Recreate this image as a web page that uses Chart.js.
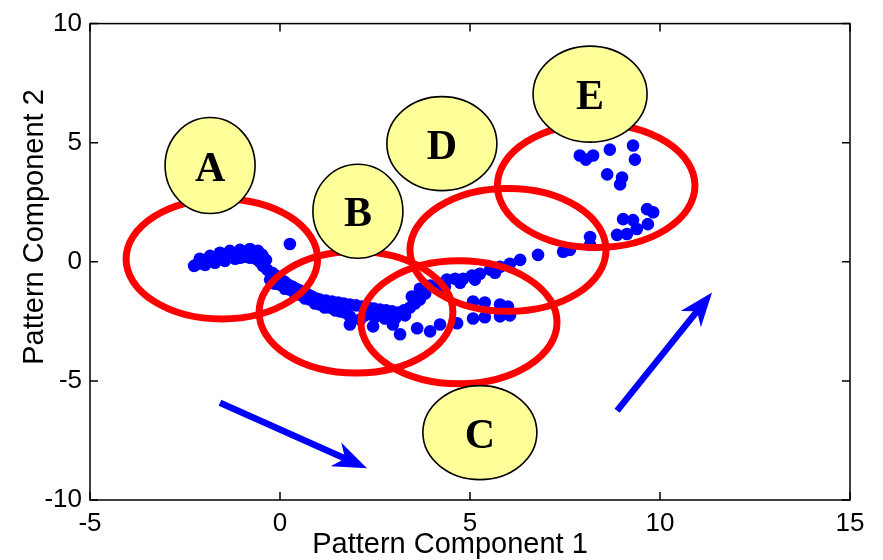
<html>
	<head>
		<script src="https://cdn.jsdelivr.net/npm/chart.js"></script>
		<style>
			body {
				margin: 0;
				background: white;
			}
			canvas {
				display: block;
			}
		</style>
	</head>
	<body>
		<canvas id="pcaChart" width="883" height="560"></canvas>

		<script>
			// scatter points
			const pc1 = [
				-2.26, -2.16, -2.03, -1.89, -1.79, -1.66, -1.53, -1.42, -1.32, -1.21, -1.11, -1.00, -0.89, -0.79, -0.68,
				-0.92, -1.18, -1.45, -1.71, -1.97, -1.05, -0.79, -0.63, -0.53, -0.45, -0.34, -0.21, -0.11, 0.00, 0.11,
				0.21, 0.32, 0.42, 0.53, 0.63, 0.74, 0.84, 0.95, 1.05, 1.21, 1.37, 1.53, 1.68, 1.84, 2.00,
				2.16, 2.32, 2.47, 2.63, 2.79, 2.95, 3.11, 3.26, 3.42, 3.55, 3.68, -0.26, 0.00, 0.26, 0.53,
				0.79, 1.05, 1.32, 1.58, 1.84, 2.11, 1.84, 2.45, 2.97, 3.16, 3.61, 4.21, 4.66, 3.95,
				3.68, 3.95, 4.21, 4.39, 4.61, 4.82, 5.05, 5.26, 5.53, 5.79, 6.05, 6.32, 6.79,
				5.08, 5.39, 5.79, 6.00, 5.08, 5.39, 5.79, 6.05,
				7.45, 7.63, 8.16, 8.16, 8.87, 9.13, 9.39, 9.68, 9.03, 9.29, 9.66, 9.82,
				7.89, 8.24, 8.05, 8.68, 9.29, 9.34, 8.61, 9.00, 8.95,
				0.26,
				-2.11, -1.84, -1.58, -1.32, -1.05, -0.79, -0.58, -0.47, -0.37,
				-0.13, 0.13, 0.39, 0.66, 0.92, 1.18, 1.45, 1.71, 2.24, 2.50, 2.76, 3.03, 3.29, 3.47, 3.82,
				4.34, 4.74, 5.13, 5.66
			];
			const pc2 = [
				-0.17, -0.08, -0.04, 0.04, 0.08, 0.13, 0.21, 0.25, 0.29, 0.33, 0.33, 0.38, 0.42, 0.42, 0.38,
				0.21, 0.13, 0.04, -0.04, -0.13, 0.17, 0.17, 0.13, 0.00, -0.17, -0.33, -0.46, -0.58, -0.71, -0.83,
				-0.96, -1.04, -1.13, -1.21, -1.29, -1.38, -1.46, -1.54, -1.58, -1.63, -1.67, -1.71, -1.75, -1.79, -1.83,
				-1.88, -1.92, -1.96, -2.00, -2.04, -2.08, -2.13, -2.04, -1.92, -1.75, -1.58, -0.75, -0.96, -1.17, -1.38,
				-1.58, -1.79, -1.92, -2.08, -2.29, -2.42, -2.63, -2.71, -2.63, -3.04, -2.79, -2.63, -2.58, -2.92,
				-1.13, -1.00, -0.92, -0.75, -0.71, -0.71, -0.58, -0.50, -0.33, -0.21, -0.08, 0.08, 0.29,
				-1.67, -1.71, -1.79, -1.88, -2.38, -2.33, -2.29, -2.25,
				0.42, 0.50, 0.71, 1.04, 1.13, 1.17, 1.38, 1.58, 1.79, 1.75, 2.21, 2.08,
				4.46, 4.46, 4.29, 4.71, 4.88, 4.29, 3.67, 3.54, 3.25,
				0.75,
				0.13, 0.25, 0.38, 0.46, 0.50, 0.54, 0.46, 0.29, 0.08,
				-0.92, -1.13, -1.33, -1.54, -1.75, -1.92, -2.04, -2.13, -2.25, -2.33, -2.38, -2.38, -2.25, -1.46, -1.33,
				-1.04, -0.88, -0.75, -0.46
			];

			// axis ticks
			const xTicks = [-5, 0, 5, 10, 15];
			const yTicks = [-10, -5, 0, 5, 10];

			// cluster rings (centre in data units, radius in data units)
			const ringNames = ['A', 'B', 'C', 'D', 'E'];
			const ringX = [-1.53, 2.00, 4.71, 6.00, 8.32];
			const ringY = [0.12, -2.12, -2.54, 0.50, 3.20];
			const ringR = [2.52, 2.55, 2.58, 2.58, 2.60];

			// yellow label bubbles (centre in data units)
			const bubbleX = [-1.84, 2.05, 5.26, 4.26, 8.16];
			const bubbleY = [4.04, 2.12, -7.17, 4.96, 7.04];

			// the two arrows, from -> to, data units
			const arrowFrom = [[-1.58, -5.92], [8.87, -6.25]];
			const arrowTo = [[2.29, -8.67], [11.37, -1.29]];

			const points = pc1.map((x, i) => ({ x: x, y: pc2[i] }));

			const bubbleSize = { A: [45, 48], B: [45, 47], C: [57, 47], D: [55, 47], E: [57, 48] };

			const drawArrow = (ctx, x0, y0, x1, y1) => {
				const dx = x1 - x0, dy = y1 - y0;
				const len = Math.sqrt(dx * dx + dy * dy);
				const ux = dx / len, uy = dy / len;
				const px = -uy, py = ux;
				const head = 34, notch = 24, half = 13;
				ctx.strokeStyle = '#0000FF';
				ctx.fillStyle = '#0000FF';
				ctx.lineWidth = 6.5;
				ctx.lineCap = 'butt';
				ctx.beginPath();
				ctx.moveTo(x0, y0);
				ctx.lineTo(x1 - ux * notch, y1 - uy * notch);
				ctx.stroke();
				ctx.beginPath();
				ctx.moveTo(x1, y1);
				ctx.lineTo(x1 - ux * head + px * half, y1 - uy * head + py * half);
				ctx.lineTo(x1 - ux * notch, y1 - uy * notch);
				ctx.lineTo(x1 - ux * head - px * half, y1 - uy * head - py * half);
				ctx.closePath();
				ctx.fill();
			};

			const overlay = {
				id: 'overlay',
				afterDatasetsDraw(chart) {
					const ctx = chart.ctx;
					const xs = chart.scales.x, ys = chart.scales.y;
					const area = chart.chartArea;
					ctx.save();

					// red rings
					ctx.strokeStyle = '#FF0000';
					ctx.lineWidth = 7;
					ringNames.forEach((n, i) => {
						const cx = xs.getPixelForValue(ringX[i]);
						const cy = ys.getPixelForValue(ringY[i]);
						const rx = xs.getPixelForValue(ringX[i] + ringR[i]) - cx;
						const ry = cy - ys.getPixelForValue(ringY[i] + ringR[i]);
						ctx.beginPath();
						ctx.ellipse(cx, cy, rx, ry, 0, 0, Math.PI * 2);
						ctx.stroke();
					});

					// arrows
					arrowFrom.forEach((a, i) => {
						drawArrow(ctx,
							xs.getPixelForValue(a[0]), ys.getPixelForValue(a[1]),
							xs.getPixelForValue(arrowTo[i][0]), ys.getPixelForValue(arrowTo[i][1]));
					});

					// bubbles
					ringNames.forEach((n, i) => {
						const cx = xs.getPixelForValue(bubbleX[i]);
						const cy = ys.getPixelForValue(bubbleY[i]);
						const s = bubbleSize[n];
						ctx.beginPath();
						ctx.ellipse(cx, cy, s[0], s[1], 0, 0, Math.PI * 2);
						ctx.fillStyle = '#FFFF99';
						ctx.fill();
						ctx.lineWidth = 1.6;
						ctx.strokeStyle = '#000000';
						ctx.stroke();
						ctx.fillStyle = '#000000';
						ctx.font = 'bold 42px "Liberation Serif", "Times New Roman", serif';
						ctx.textAlign = 'center';
						ctx.textBaseline = 'alphabetic';
						ctx.fillText(n, cx, cy + 15);
					});

					// box and inward ticks
					ctx.strokeStyle = '#000000';
					ctx.lineWidth = 1.5;
					ctx.strokeRect(area.left, area.top, area.right - area.left, area.bottom - area.top);
					ctx.beginPath();
					xTicks.forEach(v => {
						const x = xs.getPixelForValue(v);
						ctx.moveTo(x, area.bottom); ctx.lineTo(x, area.bottom - 8);
						ctx.moveTo(x, area.top); ctx.lineTo(x, area.top + 8);
					});
					yTicks.forEach(v => {
						const y = ys.getPixelForValue(v);
						ctx.moveTo(area.left, y); ctx.lineTo(area.left + 8, y);
						ctx.moveTo(area.right, y); ctx.lineTo(area.right - 8, y);
					});
					ctx.stroke();

					// axis titles
					ctx.fillStyle = '#000000';
					ctx.font = '29px "Liberation Sans", Arial, sans-serif';
					ctx.textAlign = 'center';
					ctx.textBaseline = 'alphabetic';
					ctx.fillText('Pattern Component 1', 450, 553);
					ctx.translate(43, 227);
					ctx.rotate(-Math.PI / 2);
					ctx.fillText('Pattern Component 2', 0, 0);
					ctx.restore();
				}
			};

			const tickFont = { family: '"Liberation Sans", Arial, sans-serif', size: 26 };

			const chart = new Chart(document.getElementById('pcaChart'), {
				type: 'scatter',
				data: {
					datasets: [{
						label: 'samples',
						data: points,
						backgroundColor: '#0000FF',
						borderWidth: 0,
						pointRadius: 6.3,
						pointHoverRadius: 6.3
					}]
				},
				options: {
					responsive: false,
					animation: false,
					layout: { padding: { top: 20, right: 33, left: 0, bottom: 0 } },
					plugins: {
						legend: { display: false },
						tooltip: { enabled: false }
					},
					scales: {
						x: {
							min: -5, max: 15,
							afterFit: s => { s.height = 60; },
							afterBuildTicks: s => { s.ticks = xTicks.map(v => ({ value: v })); },
							grid: { display: false, drawTicks: false },
							border: { display: false },
							ticks: { font: tickFont, color: '#000', padding: 8, autoSkip: false, maxRotation: 0 }
						},
						y: {
							min: -10, max: 10,
							afterFit: s => { s.width = 90; },
							afterBuildTicks: s => { s.ticks = yTicks.map(v => ({ value: v })); },
							grid: { display: false, drawTicks: false },
							border: { display: false },
							ticks: { font: tickFont, color: '#000', padding: 8, autoSkip: false }
						}
					}
				},
				plugins: [overlay]
			});
		</script>
	</body>
</html>
